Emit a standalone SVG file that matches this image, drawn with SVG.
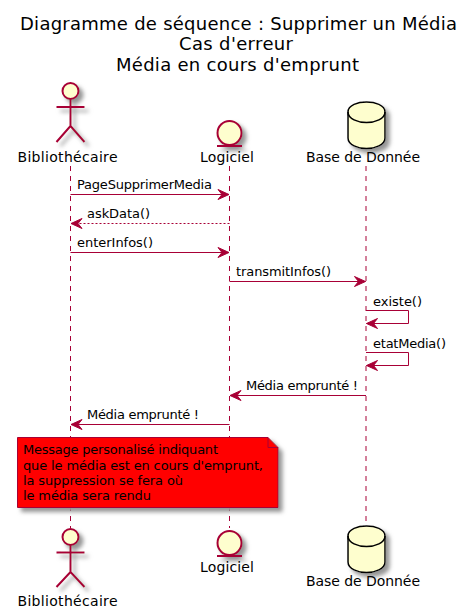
<svg xmlns="http://www.w3.org/2000/svg" width="470" height="614" viewBox="0 0 470 614">
<style>
text{font-family:"DejaVu Sans",sans-serif;font-size:13px;fill:#000}
.title{font-size:18px}
.part{font-size:14px}
.life{stroke:#A80036;stroke-width:1;stroke-dasharray:5,5;fill:none}
.msg{stroke:#A80036;stroke-width:1;fill:none;marker-end:url(#arrow)}
.dash{stroke-dasharray:2,2}
.actor{fill:#FEFECE;stroke:#A80036;stroke-width:2;filter:url(#shadow)}
.db{fill:#FEFECE;stroke:#000;stroke-width:1.5;filter:url(#shadow)}
.dbl{fill:none;stroke:#000;stroke-width:1.5}
.note{fill:#FF0000;stroke:#A80036;stroke-width:1}
</style>
<defs>
<filter id="shadow" x="-30%" y="-30%" width="170%" height="170%">
<feGaussianBlur in="SourceAlpha" stdDeviation="2"/>
<feOffset dx="4" dy="4"/>
<feColorMatrix type="matrix" values="0 0 0 0 0.3 0 0 0 0 0.3 0 0 0 0 0.3 0 0 0 1 0"/>
<feMerge><feMergeNode/><feMergeNode in="SourceGraphic"/></feMerge>
</filter>
<marker id="arrow" markerUnits="userSpaceOnUse" markerWidth="14" markerHeight="12" refX="12" refY="6" orient="auto">
<path d="M12,6 L1,1 L5,6 L1,11 Z" fill="#A80036" stroke="#A80036" stroke-width="1"/>
</marker>
</defs>
<text class="title" x="20" y="29.5" textLength="437">Diagramme de séquence : Supprimer un Média</text>
<text class="title" x="179" y="50" textLength="114">Cas d'erreur</text>
<text class="title" x="116" y="71" textLength="243">Média en cours d'emprunt</text>
<g id="lifelines">
<line class="life" x1="70.5" y1="166" x2="70.5" y2="528"/>
<line class="life" x1="229.5" y1="166" x2="229.5" y2="528"/>
<line class="life" x1="366" y1="166" x2="366" y2="526"/>
</g>
<g id="connectors">
<line class="msg" x1="70.5" y1="194.5" x2="229" y2="194.5"/>
<line class="msg dash" x1="229.5" y1="223.5" x2="71" y2="223.5"/>
<line class="msg" x1="70.5" y1="252.5" x2="229" y2="252.5"/>
<line class="msg" x1="229.5" y1="281.5" x2="365.5" y2="281.5"/>
<path class="msg" d="M366,310.5 H408.5 V323.5 H366.5"/>
<path class="msg" d="M366,352.5 H408.5 V365.5 H366.5"/>
<line class="msg" x1="366" y1="395.5" x2="230" y2="395.5"/>
<line class="msg" x1="229.5" y1="424.5" x2="71" y2="424.5"/>
</g>
<g id="labels">
<text x="77" y="189" textLength="135">PageSupprimerMedia</text>
<text x="87" y="218" textLength="63">askData()</text>
<text x="77" y="247" textLength="76">enterInfos()</text>
<text x="236" y="276" textLength="95">transmitInfos()</text>
<text x="373" y="306" textLength="49">existe()</text>
<text x="373" y="348" textLength="73">etatMedia()</text>
<text x="246" y="390" textLength="112">Média emprunté !</text>
<text x="87" y="419" textLength="112">Média emprunté !</text>
</g>
<g id="actor-top">
<g class="actor">
<circle cx="70.5" cy="91" r="8"/>
<path d="M70.5,99 V126 M56.5,107 H84.5 M70.5,126 L56.5,142 M70.5,126 L84.5,142" fill="none"/>
</g>
<text class="part" x="17.5" y="162" textLength="100">Bibliothécaire</text>
</g>
<g id="entity-top">
<g class="actor">
<circle cx="229.5" cy="133" r="12"/>
<path d="M217,146 H242" fill="none"/>
</g>
<text class="part" x="200" y="162" textLength="54">Logiciel</text>
</g>
<g id="database-top">
<path class="db" d="M348,112 C348,105 358,102 366.500,102 C375,102 385,105 385,112 V138 C385,145 375,148.500 366.500,148.500 C358,148.500 348,145 348,138 Z"/>
<path class="dbl" d="M348,112 C348,119 358,122.500 366.500,122.500 C375,122.500 385,119 385,112"/>
<text class="part" x="306" y="162" textLength="114">Base de Donnée</text>
</g>
<g id="note">
<path class="note" filter="url(#shadow)" d="M17.500,437.500 H268 L278,447.500 V507.500 H17.500 Z"/>
<path class="note" style="fill:none" d="M268,437.500 V447.500 H278"/>
<text x="23" y="454" textLength="195">Message personalisé indiquant</text>
<text x="23" y="469.500" textLength="240">que le média est en cours d'emprunt,</text>
<text x="23" y="485" textLength="160">la suppression se fera où</text>
<text x="23" y="500" textLength="128">le média sera rendu</text>
</g>
<g id="actor-bottom">
<g class="actor">
<circle cx="70.5" cy="537" r="8"/>
<path d="M70.5,545 V572 M56.5,552.500 H84.5 M70.5,572 L56.5,587 M70.5,572 L84.5,587" fill="none"/>
</g>
<text class="part" x="17.5" y="606" textLength="100">Bibliothécaire</text>
</g>
<g id="entity-bottom">
<g class="actor">
<circle cx="229.5" cy="543" r="12"/>
<path d="M217,556 H242" fill="none"/>
</g>
<text class="part" x="200" y="572" textLength="54">Logiciel</text>
</g>
<g id="database-bottom">
<path class="db" d="M348,536 C348,529 358,526 366.500,526 C375,526 385,529 385,536 V562 C385,569 375,572.500 366.500,572.500 C358,572.500 348,569 348,562 Z"/>
<path class="dbl" d="M348,536 C348,543 358,546.500 366.500,546.500 C375,546.500 385,543 385,536"/>
<text class="part" x="306" y="586" textLength="114">Base de Donnée</text>
</g>
</svg>
